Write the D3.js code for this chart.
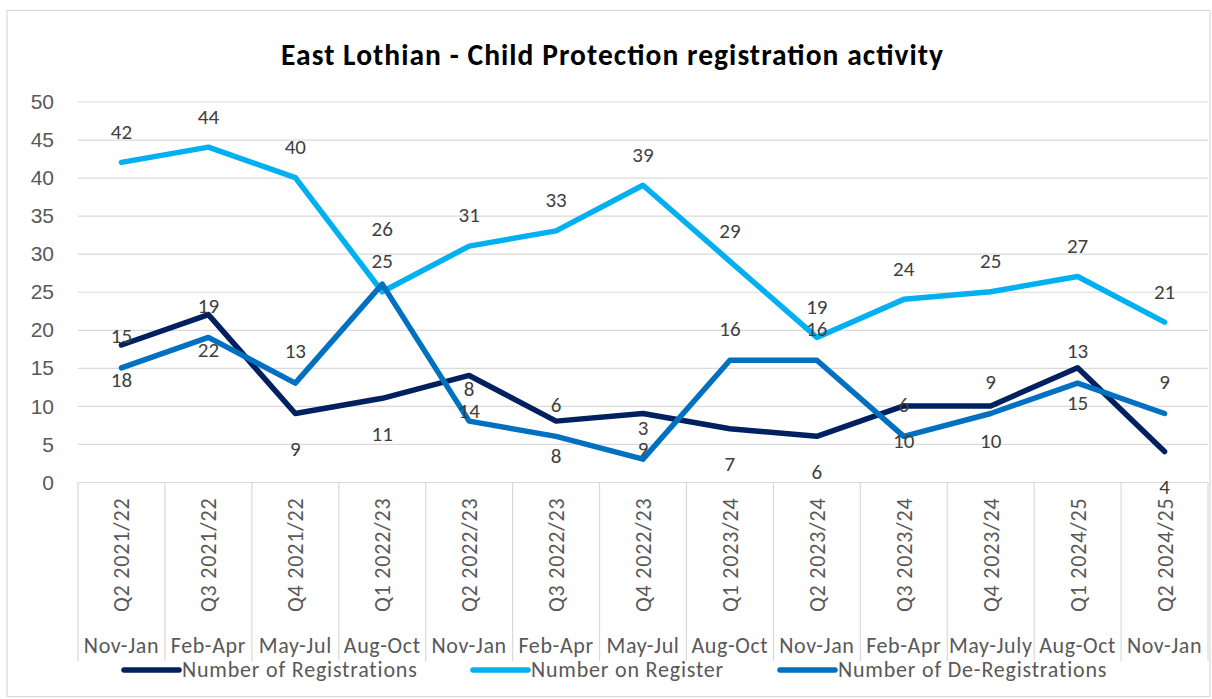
<!DOCTYPE html>
<html>
<head>
<meta charset="utf-8">
<script src="https://cdn.jsdelivr.net/npm/d3@7"></script>
<style>
  html, body { margin: 0; padding: 0; background: #fff; }
  svg { display: block; font-family: Carlito, Calibri, Lato, "Open Sans", sans-serif; }
</style>
</head>
<body>
<div id="chart"></div>
<script>
// quarter / month labels along the bottom
const quarters = ["Q2 2021/22", "Q3 2021/22", "Q4 2021/22", "Q1 2022/23", "Q2 2022/23", "Q3 2022/23",
  "Q4 2022/23", "Q1 2023/24", "Q2 2023/24", "Q3 2023/24", "Q4 2023/24", "Q1 2024/25", "Q2 2024/25"];
const months = ["Nov-Jan", "Feb-Apr", "May-Jul", "Aug-Oct", "Nov-Jan", "Feb-Apr",
  "May-Jul", "Aug-Oct", "Nov-Jan", "Feb-Apr", "May-July", "Aug-Oct", "Nov-Jan"];

const registrations = [18, 22, 9, 11, 14, 8, 9, 7, 6, 10, 10, 15, 4];
const onRegister = [42, 44, 40, 25, 31, 33, 39, 29, 19, 24, 25, 27, 21];
const deRegistrations = [15, 19, 13, 26, 8, 6, 3, 16, 16, 6, 9, 13, 9];

const yTicks = [0, 5, 10, 15, 20, 25, 30, 35, 40, 45, 50];

const W = 1212, H = 699;
const M = { top: 101.5, right: 4, bottom: 217, left: 78 };
const GRID = "#d9d9d9", TICK = "#595959", LABEL = "#404040";

const series = [
  { name: "Number of Registrations", values: registrations, color: "#002060", dy: 35 },
  { name: "Number on Register", values: onRegister, color: "#00b0f0", dy: -31 },
  { name: "Number of De-Registrations", values: deRegistrations, color: "#0070c0", dy: -32 }
];
// one label was dragged up by hand in the original
const nudge = { 2: { 3: -23 } };

const svg = d3.select("#chart").append("svg").attr("width", W).attr("height", H);

// chart frame
svg.append("rect").attr("x", 7).attr("y", 10.5).attr("width", W - 9).attr("height", H - 13)
  .attr("fill", "none").attr("stroke", GRID).attr("stroke-width", 1.2);

svg.append("text").attr("x", 612).attr("y", 65).attr("text-anchor", "middle")
  .style("font-weight", 700).style("font-size", "29.5px").attr("fill", "#000")
  .attr("textLength", 662).attr("lengthAdjust", "spacing")
  .text("East Lothian - Child Protection registration activity");

const x = d3.scaleBand().domain(d3.range(quarters.length)).range([M.left, W - M.right]);
const y = d3.scaleLinear().domain([0, 50]).range([H - M.bottom, M.top]);
const cx = i => x(i) + x.bandwidth() / 2;

// gridlines
const yAxis = d3.axisLeft(y).tickValues(yTicks).tickSize(-(W - M.right - M.left)).tickPadding(24);
const ga = svg.append("g").attr("transform", `translate(${M.left},0)`).call(yAxis);
ga.select(".domain").remove();
ga.selectAll(".tick line").attr("stroke", GRID).attr("stroke-width", 1.2);
ga.selectAll(".tick text").attr("fill", TICK).style("font-size", "21px").attr("dy", "0.34em");

// category dividers
const divBottom = 661;
svg.append("g").selectAll("line").data(d3.range(quarters.length + 1)).join("line")
  .attr("x1", i => i < quarters.length ? x(i) : x(i - 1) + x.bandwidth())
  .attr("x2", i => i < quarters.length ? x(i) : x(i - 1) + x.bandwidth())
  .attr("y1", y(0)).attr("y2", divBottom)
  .attr("stroke", GRID).attr("stroke-width", 1.2);

// rotated quarter labels and month labels
const cat = svg.append("g").style("font-size", "22px").style("letter-spacing", "0.6px").attr("fill", TICK);
cat.selectAll(".q").data(quarters).join("text").attr("class", "q")
  .attr("transform", (d, i) => `translate(${cx(i) + 8},612) rotate(-90)`)
  .style("letter-spacing", "0.8px")
  .text(d => d);
cat.selectAll(".m").data(months).join("text").attr("class", "m")
  .attr("x", (d, i) => cx(i)).attr("y", 653).attr("text-anchor", "middle")
  .text(d => d);

// lines
const line = d3.line().x((d, i) => cx(i)).y(d => y(d));
svg.append("g").selectAll("path").data(series).join("path")
  .attr("d", s => line(s.values))
  .attr("fill", "none").attr("stroke", s => s.color).attr("stroke-width", 5.5)
  .attr("stroke-linejoin", "round").attr("stroke-linecap", "round");

// data labels
series.forEach((s, k) => {
  svg.append("g").selectAll("text").data(s.values).join("text")
    .attr("x", (d, i) => cx(i))
    .attr("y", (d, i) => y(d) + s.dy + ((nudge[k] && nudge[k][i]) || 0))
    .attr("dy", "0.35em").attr("text-anchor", "middle")
    .attr("fill", LABEL).style("font-size", "21px")
    .text(d => d);
});

// legend
const legendX = [124, 473, 780];
const lg = svg.append("g").selectAll("g").data(series).join("g")
  .attr("transform", (s, i) => `translate(${legendX[i]},670)`);
lg.append("line").attr("x1", 0).attr("x2", 55)
  .attr("stroke", s => s.color).attr("stroke-width", 5.5).attr("stroke-linecap", "round");
lg.append("text").attr("x", 58).attr("y", 7).attr("fill", TICK)
  .style("font-size", "22px").style("letter-spacing", "0.8px")
  .text(s => s.name);
</script>
</body>
</html>
